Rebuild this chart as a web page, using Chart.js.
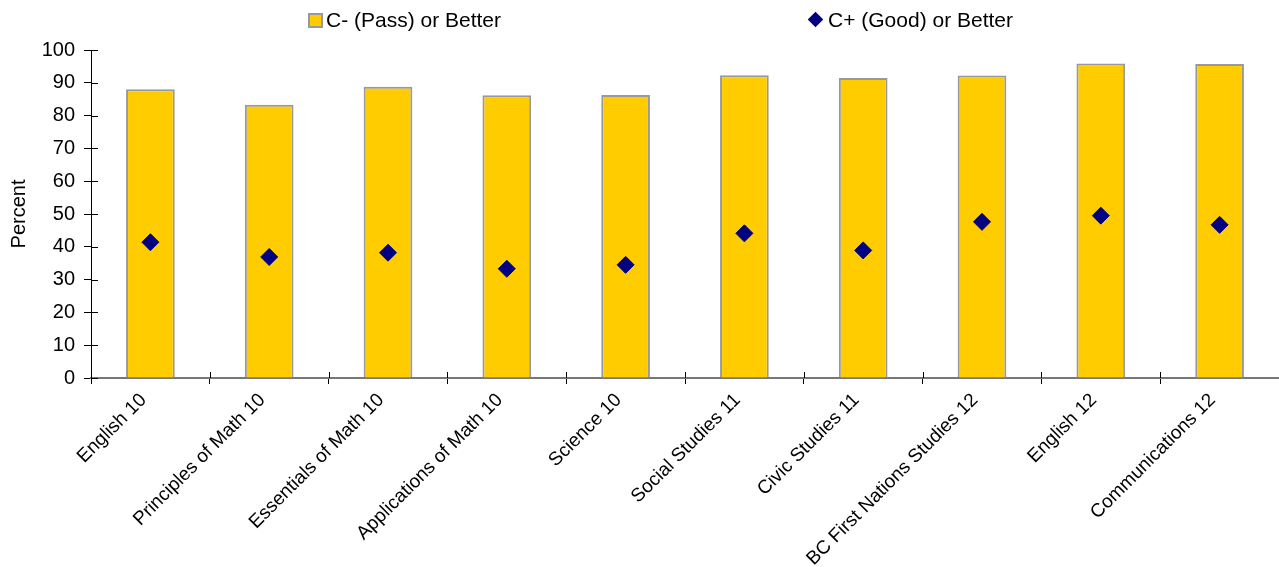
<!DOCTYPE html>
<html>
<head>
<meta charset="utf-8">
<script src="https://cdn.jsdelivr.net/npm/chart.js@4/dist/chart.umd.min.js"></script>
<style>
  html, body { margin: 0; padding: 0; background: #fff; }
  #wrap { position: relative; width: 1279px; height: 567px; }
  #legend { position: absolute; left: 0; top: 0; font-family: "Liberation Sans", Arial, sans-serif; font-size: 21px; color: #000; }
  .lg-text { position: absolute; top: 7px; line-height: 25px; white-space: nowrap; }
  .lg-bar { position: absolute; left: 308px; top: 13px; width: 15px; height: 15px; box-sizing: border-box; background: #FFCC00; border: 2px solid #999; }
  .lg-diamond { position: absolute; left: 810px; top: 14px; width: 11px; height: 11px; background: #000080; transform: rotate(45deg); }
</style>
</head>
<body>
<div id="wrap">
  <canvas id="chart" width="1279" height="567"></canvas>
  <!-- Légende HTML maison -->
  <div id="legend">
    <div class="lg-bar"></div>
    <div class="lg-text" style="left:326px">C- (Pass) or Better</div>
    <div class="lg-diamond"></div>
    <div class="lg-text" style="left:828px">C+ (Good) or Better</div>
  </div>
</div>
<script>
// Données
const categories = ['English 10', 'Principles of Math 10', 'Essentials of Math 10', 'Applications of Math 10',
  'Science 10', 'Social Studies 11', 'Civic Studies 11', 'BC First Nations Studies 12', 'English 12', 'Communications 12'];
const passRates = [88.0, 83.3, 88.8, 86.2, 86.3, 92.3, 91.5, 92.2, 95.9, 95.7];
const goodRates = [41.4, 36.9, 38.2, 33.3, 34.5, 44.1, 38.9, 47.6, 49.5, 46.7];
const yMin = 0, yMax = 100, yStep = 10;

const FONT = '"Liberation Sans", Arial, sans-serif';

// Petits traits qui traversent les axes (côté intérieur)
const innerTicks = {
  id: 'innerTicks',
  afterDraw(chart) {
    const c = chart.ctx;
    const xs = chart.scales.x, ys = chart.scales.y;
    c.save();
    c.strokeStyle = '#000';
    c.lineWidth = 1;
    c.beginPath();
    ys.ticks.forEach((t, i) => {
      const py = Math.round(ys.getPixelForTick(i)) + 0.5;
      c.moveTo(ys.right, py);
      c.lineTo(ys.right + 7, py);
    });
    for (let i = 0; i <= categories.length; i++) {
      const px = Math.round(xs.getPixelForValue(i - 0.5)) + 0.5;
      c.moveTo(px, xs.top);
      c.lineTo(px, xs.top - 6);
    }
    c.stroke();
    c.restore();
  }
};

new Chart(document.getElementById('chart'), {
  type: 'bar',
  data: {
    labels: categories,
    datasets: [
      {
        type: 'line',
        label: 'C+ (Good) or Better',
        data: goodRates,
        showLine: false,
        pointStyle: 'rectRot',
        pointRadius: 8.5,
        pointBackgroundColor: '#000080',
        pointBorderColor: '#000080',
        pointBorderWidth: 1,
        order: 0
      },
      {
        label: 'C- (Pass) or Better',
        data: passRates,
        backgroundColor: '#FFCC00',
        borderColor: '#999999',
        borderWidth: 2,
        barPercentage: 0.41,
        categoryPercentage: 1,
        order: 1
      }
    ]
  },
  options: {
    responsive: false,
    animation: false,
    devicePixelRatio: 1,
    layout: { autoPadding: false, padding: { top: 50, right: 0, left: 0, bottom: 0 } },
    scales: {
      x: {
        offset: true,
        grid: { offset: true, drawOnChartArea: false, tickLength: 6, color: '#000', lineWidth: 1 },
        border: { color: '#777', width: 2 },
        ticks: { color: '#000', font: { family: FONT, size: 19 }, minRotation: 45, maxRotation: 45, autoSkip: false, padding: 5, labelOffset: -7 },
        afterFit(scale) {
          scale.height = 189;
          scale.paddingLeft = 0;
          scale.paddingRight = 0;
        }
      },
      y: {
        min: yMin,
        max: yMax,
        ticks: { stepSize: yStep, color: '#000', font: { family: FONT, size: 20 }, padding: 9 },
        grid: { drawOnChartArea: false, tickLength: 7, color: '#000', lineWidth: 1 },
        border: { color: '#000', width: 1 },
        title: { display: true, text: 'Percent', color: '#000', font: { family: FONT, size: 20 }, padding: { top: 7, bottom: 0 } },
        afterFit(scale) { scale.width = 91; }
      }
    },
    plugins: {
      legend: { display: false },
      tooltip: { enabled: false }
    }
  },
  plugins: [innerTicks]
});
</script>
</body>
</html>
